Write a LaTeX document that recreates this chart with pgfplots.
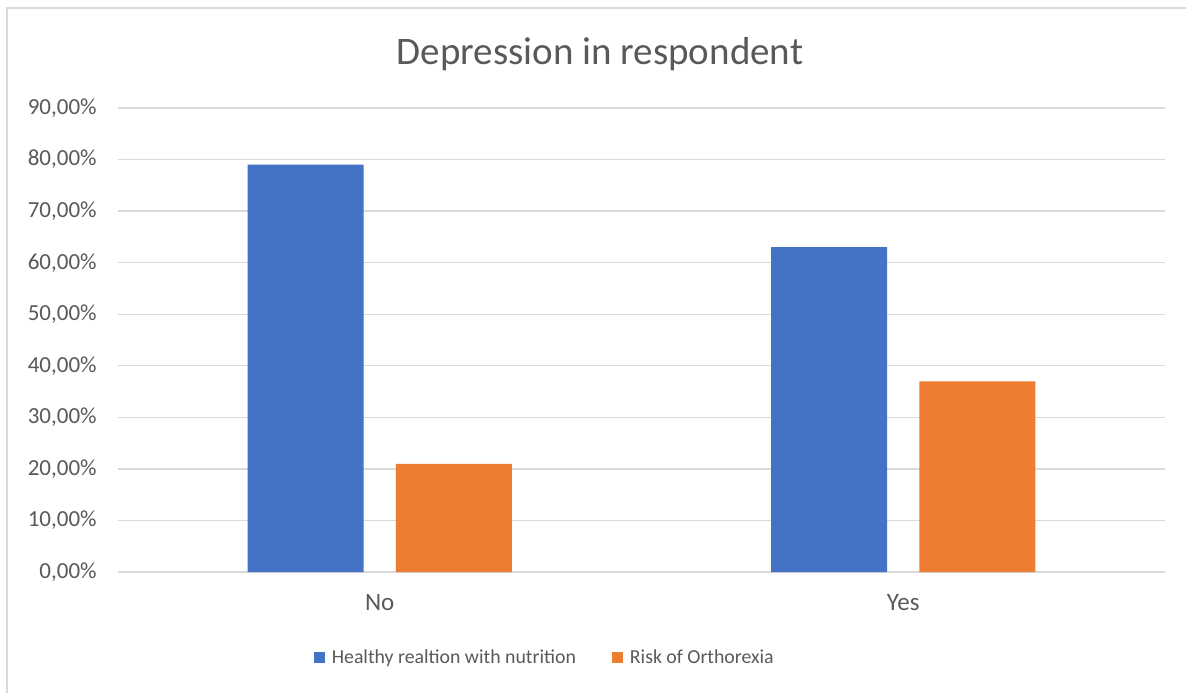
\documentclass[border=0pt]{standalone}
\usepackage{fontspec}
\setmainfont{Carlito}
\usepackage{pgfplots}
\pgfplotsset{compat=1.18}
\definecolor{cblue}{HTML}{4472C4}
\definecolor{corange}{HTML}{ED7D31}
\definecolor{cgrid}{HTML}{D9D9D9}
\definecolor{ctext}{HTML}{595959}
\begin{document}
\begin{tikzpicture}
\path[use as bounding box] (-59pt,-60.5pt) rectangle (534pt,286pt);
\draw[cgrid, line width=1pt] (-55.5pt,-60.5pt) -- (-55.5pt,282pt) -- (534pt,282pt);
\begin{axis}[
  at={(0pt,0pt)}, anchor=south west,
  scale only axis, width=523.5pt, height=232pt,
  xmin=-0.5, xmax=1.5, ymin=0, ymax=90,
  axis line style={draw=none},
  ymajorgrids, grid style={cgrid, line width=0.7pt},
  major tick length=0pt,
  xtick={0,1}, xticklabels={No,Yes},
  ytick={0,10,20,30,40,50,60,70,80,90},
  yticklabels={{0,00\%},{10,00\%},{20,00\%},{30,00\%},{40,00\%},{50,00\%},{60,00\%},{70,00\%},{80,00\%},{90,00\%}},
  tick label style={font=\fontsize{11.5}{13}\selectfont, text=ctext, inner sep=0pt},
  yticklabel style={anchor=east, xshift=-10.5pt},
  xticklabel style={anchor=base, yshift=-19pt, font=\fontsize{12.5}{14}\selectfont},
  ybar, bar width=0.2216,
  legend style={at={(0.41,-0.1853)}, anchor=center, draw=none, fill=none,
    font=\fontsize{9.9}{12}\selectfont, text=ctext,
    /tikz/every even column/.append style={column sep=14.5pt},
    nodes={inner sep=0pt, inner xsep=3.5pt}},
  legend columns=2,
  legend image code/.code={\fill[#1] (0pt,-2.75pt) rectangle (5.5pt,2.75pt);},
  title={Depression in respondent},
  title style={at={(482/1047,506/464)}, anchor=center, font=\fontsize{19.5}{22}\selectfont, text=ctext},
]
\addplot[fill=cblue, draw=none, bar shift=-0.1414] coordinates {(0,79) (1,63)};
\addplot[fill=corange, draw=none, bar shift=0.1414] coordinates {(0,21) (1,37)};
\legend{Healthy realtion with nutrition, Risk of Orthorexia}
\end{axis}
\end{tikzpicture}
\end{document}
